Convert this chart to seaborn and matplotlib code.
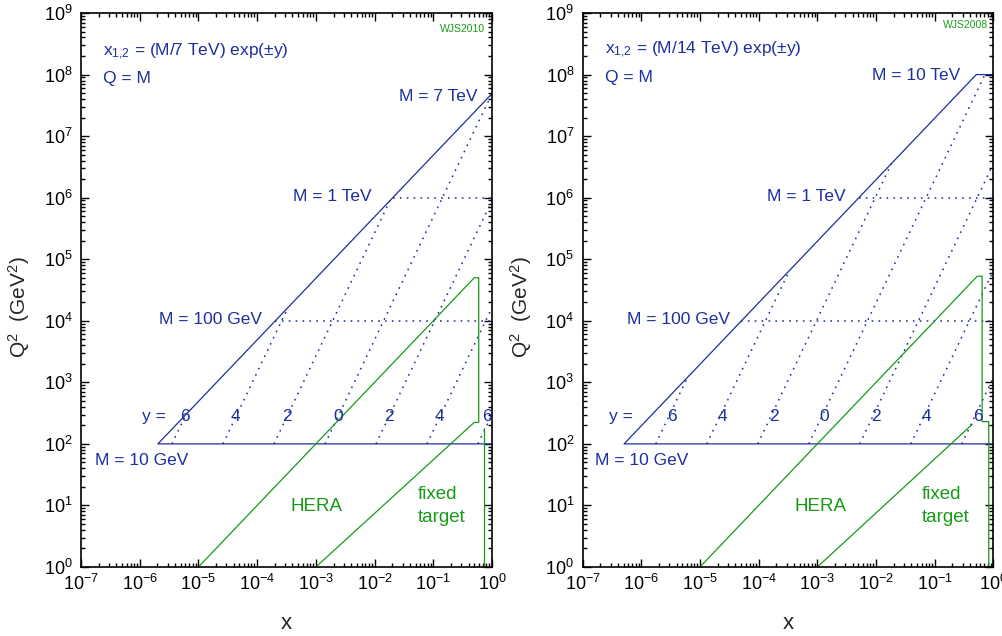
import numpy as np
import matplotlib
matplotlib.use("Agg")
import matplotlib.pyplot as plt
import seaborn as sns
from matplotlib.ticker import LogLocator, NullFormatter

# ---- values ----------------------------------------------------------
# collider setup per panel: sqrt(s) in GeV, text, highest mass drawn, tag
sqrt_s_values = [7000.0, 14000.0]
energy_texts = ["7 TeV", "14 TeV"]
mass_caps = [7000.0, 10000.0]
cap_texts = ["M = 7 TeV", "M = 10 TeV"]
tag_texts = ["WJS2010", "WJS2008"]

rapidities = [6, 4, 2, 0, -2, -4, -6]
mass_floor = 10.0                 # M = 10 GeV, Q = M
mass_levels = [100.0, 1000.0]     # dotted M = 100 GeV, M = 1 TeV
mass_texts = ["M = 100 GeV", "M = 1 TeV"]

# HERA / fixed target boundaries (x, Q^2), one list of paths per panel
green_x = [
    [[1e-5, 0.50, 0.594, 0.594, 0.50, 1e-3], [0.74, 0.74]],
    [[1e-5, 0.53, 0.64, 0.64, 0.83, 0.83], [1e-3, 0.435]],
]
green_q2 = [
    [[1.0, 5.0e4, 5.0e4, 224.0, 224.0, 1.0], [179.0, 1.0]],
    [[1.0, 5.3e4, 5.3e4, 230.0, 230.0, 1.0], [1.0, 208.0]],
]

BLUE = "#1f2f9c"
GREEN = "#179a17"
DOTS = (0, (1.1, 3.4))

sns.set_theme(style="ticks")
plt.rcParams["font.family"] = ["Liberation Sans", "DejaVu Sans"]
plt.rcParams["mathtext.default"] = "regular"

fig = plt.figure(figsize=(10.03, 6.36), dpi=100)
axes = [fig.add_axes([81 / 1003, 69 / 636, 411 / 1003, 554 / 636]),
        fig.add_axes([582.5 / 1003, 69 / 636, 411 / 1003, 554 / 636])]

# text placement (axes fraction) per panel
text_pos = {
    "formula": [(0.053, 0.930), (0.055, 0.933)],
    "q": [(0.053, 0.882), (0.055, 0.884)],
    "tag": [(0.983, 0.972), (0.987, 0.978)],
    "cap": [(0.964, 0.849), (0.918, 0.888)],
    "m1tev": [(0.708, 0.668), (0.639, 0.668)],
    "m100": [(0.440, 0.446), (0.359, 0.446)],
    "yeq": [(0.178, 0.271), (0.094, 0.271)],
    "m10": [(0.034, 0.192), (0.030, 0.192)],
    "hera": [(0.573, 0.110), (0.578, 0.110)],
    "fixed": [(0.820, 0.130), (0.826, 0.130)],
    "target": [(0.820, 0.090), (0.826, 0.090)],
}
label_mass = [16.5, 18.5]

for i, ax in enumerate(axes):
    ax.set_xscale("log")
    ax.set_yscale("log")
    rs = sqrt_s_values[i]
    s = rs ** 2
    cap = mass_caps[i]

    # kinematic boundary: M = 10 GeV floor, x1 x2 = M^2/s edge, M cap
    bx = [1.0, mass_floor ** 2 / s, min(1.0, cap ** 2 / s), 1.0]
    bq = [mass_floor ** 2, mass_floor ** 2, min(s, cap ** 2), min(s, cap ** 2)]
    sns.lineplot(x=bx, y=bq, ax=ax, sort=False, estimator=None, color=BLUE,
                 lw=0.9, legend=False)

    # constant rapidity lines, x = (M/sqrt s) exp(-y), Q = M
    for y in rapidities:
        m_top = min(rs * np.exp(-abs(y)), cap)
        m = np.array([mass_floor, m_top])
        sns.lineplot(x=m / rs * np.exp(-y), y=m ** 2, ax=ax, sort=False,
                     estimator=None, color=BLUE, lw=1.1, linestyle=DOTS,
                     legend=False)

    # constant mass lines
    for m in mass_levels:
        sns.lineplot(x=[m ** 2 / s, 1.0], y=[m ** 2, m ** 2], ax=ax, sort=False,
                     estimator=None, color=BLUE, lw=1.1, linestyle=DOTS,
                     legend=False)

    # HERA and fixed target
    for gx, gq in zip(green_x[i], green_q2[i]):
        sns.lineplot(x=gx, y=gq, ax=ax, sort=False, estimator=None,
                     color=GREEN, lw=0.9, legend=False)

    # rapidity labels
    tx = np.minimum(label_mass[i] / rs * np.exp(-np.array(rapidities)), 0.82)
    for y, xx in zip(rapidities, tx):
        ax.text(xx, 277, str(abs(y)), color=BLUE, fontsize=12.5,
                ha="center", va="center")

    def put(key, txt, color=BLUE, size=12.5, ha="left", va="center"):
        px, py = text_pos[key][i]
        ax.text(px, py, txt, transform=ax.transAxes, color=color,
                fontsize=size, ha=ha, va=va)

    put("formula", "x$_{1{,}2}$ = (M/" + energy_texts[i] + ") exp(\u00b1y)")
    put("q", "Q = M")
    put("tag", tag_texts[i], color=GREEN, size=7.5, ha="right")
    put("cap", cap_texts[i], ha="right")
    put("m1tev", mass_texts[1], ha="right")
    put("m100", mass_texts[0], ha="right")
    put("yeq", "y =", ha="center")
    put("m10", "M = 10 GeV")
    put("hera", "HERA", color=GREEN, size=13.5, ha="center")
    put("fixed", "fixed", color=GREEN, size=13.5)
    put("target", "target", color=GREEN, size=13.5)

    ax.set_xlim(1e-7, 1.0)
    ax.set_ylim(1.0, 1e9)
    ax.xaxis.set_major_locator(LogLocator(base=10, numticks=20))
    ax.yaxis.set_major_locator(LogLocator(base=10, numticks=20))
    ax.xaxis.set_minor_locator(LogLocator(base=10, subs=np.arange(2, 10), numticks=100))
    ax.yaxis.set_minor_locator(LogLocator(base=10, subs=np.arange(2, 10), numticks=100))
    ax.xaxis.set_minor_formatter(NullFormatter())
    ax.yaxis.set_minor_formatter(NullFormatter())
    ax.tick_params(which="both", direction="in", top=True, right=True,
                   colors="black", labelsize=13, width=1.0)
    ax.tick_params(which="major", length=6)
    ax.tick_params(which="minor", length=3.2)
    ax.tick_params(axis="x", pad=5)
    ax.tick_params(axis="y", pad=6)
    for sp in ax.spines.values():
        sp.set_linewidth(1.2)
        sp.set_color("black")

    ax.set_xlabel("x", fontsize=16)
    ax.set_ylabel("Q$^2$  (GeV$^2$)", fontsize=15)
    ax.xaxis.set_label_coords(0.5, -0.083)
    ax.yaxis.set_label_coords(-0.119, 0.469)

fig.savefig("out.png", dpi=100)
